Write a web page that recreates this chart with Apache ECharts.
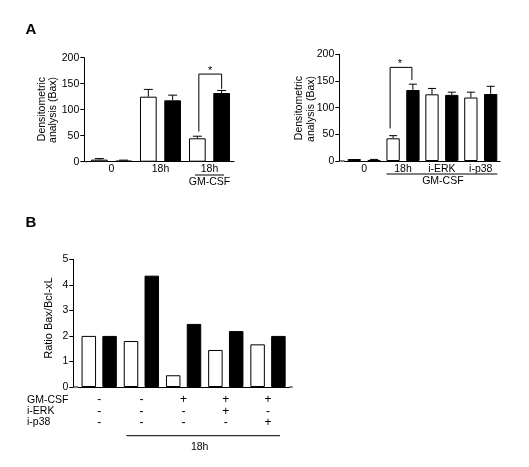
<!DOCTYPE html>
<html><head><meta charset="utf-8">
<script src="https://cdn.jsdelivr.net/npm/echarts@6/dist/echarts.min.js"></script>
<style>html,body{margin:0;padding:0;background:#fff}#c{width:529px;height:467px}</style>
</head><body><div id="c"></div>
<script>
// ---------- Data ----------
// Panel A (left): Bax densitometry
const catsA1 = ['0', '18h', '18h\nGM-CSF'];
const whiteA1 = [4, 125, 45];
const blackA1 = [2, 118, 132];
const whiteErrA1 = [2, 14, 4];
const blackErrA1 = [1, 10, 5];
// Panel A (right)
const catsA2 = ['0', '18h', 'i-ERK', 'i-p38'];
const whiteA2 = [3.75, 42.5, 125, 119];
const blackA2 = [2, 133, 124, 125.5];
const whiteErrA2 = [0, 5, 11, 10];
const blackErrA2 = [1, 11, 5, 14.5];
// Panel B: Bax/Bcl-xL ratio
const gmcsfRow = ['-', '-', '+', '+', '+'];
const iErkRow  = ['-', '-', '-', '+', '-'];
const ip38Row  = ['-', '-', '-', '-', '+'];
const catsB = ['1', '2', '3', '4', '5'];
const whiteB = [2.0, 1.8, 0.46, 1.45, 1.67];
const blackB = [2.0, 4.36, 2.47, 2.19, 2.0];
// Axis scales
const yScaleA = {min: 0, max: 200, interval: 50};
const yScaleB = {min: 0, max: 5, interval: 1};
const rowLabels = ['GM-CSF', 'i-ERK', 'i-p38'];

// ---------- Layout ----------
const FONT = '"Liberation Sans", Arial, Helvetica, sans-serif';
const grids = [
  {left: 87, top: 57.7, width: 147, height: 104},
  {left: 344.7, top: 54.3, width: 155.5, height: 106.7},
  {left: 78.1, top: 259.3, width: 211, height: 127.7}
];
const yOffsets = [2.7, 5.4, 4.8];
const barW = [16.7, 13.3, 14.5];
const barGapPx = [7.6, 6.5, 6.3];
const capW = [9, 8, 0];

function xAxis(i, cats, extra) {
  return Object.assign({
    type: 'category', gridIndex: i, data: cats,
    axisLine: {show: true, lineStyle: {color: '#000', width: 1}},
    axisTick: {show: false},
    splitLine: {show: false},
    axisLabel: {interval: 0, color: '#000', fontSize: 10.5, fontFamily: FONT, margin: 1.5, lineHeight: 12.5}
  }, extra || {});
}
function yAxis(i, sc) {
  return {
    type: 'value', gridIndex: i, min: sc.min, max: sc.max, interval: sc.interval,
    offset: yOffsets[i],
    axisLine: {show: true, lineStyle: {color: '#000', width: 1}},
    axisTick: {show: true, length: 4, lineStyle: {color: '#000'}},
    splitLine: {show: false},
    axisLabel: {color: '#000', fontSize: 10.5, fontFamily: FONT, margin: 5}
  };
}
function bars(i, vals, white) {
  return {
    type: 'bar', xAxisIndex: i, yAxisIndex: i, data: vals, silent: true,
    barWidth: barW[i], barGap: (barGapPx[i] / barW[i] * 100).toFixed(1) + '%',
    itemStyle: white ? {color: '#fff', borderColor: '#000', borderWidth: 1} : {color: '#000', borderColor: '#000', borderWidth: 1},
    z: 2
  };
}
function errs(i, vals, e, side) {
  const off = side * (barW[i] + barGapPx[i]) / 2;
  return {
    type: 'custom', xAxisIndex: i, yAxisIndex: i, silent: true, z: 5,
    data: vals.map((v, k) => [k, v, e[k]]),
    renderItem: function (params, api) {
      const k = api.value(0), v = api.value(1), ev = api.value(2);
      if (!ev) return null;
      const p0 = api.coord([k, v]), p1 = api.coord([k, v + ev]);
      const x = p0[0] + off;
      return {type: 'group', children: [
        {type: 'line', shape: {x1: x, y1: p0[1], x2: x, y2: p1[1]}, style: {stroke: '#000', lineWidth: 1}},
        {type: 'line', shape: {x1: x - capW[i] / 2, y1: p1[1], x2: x + capW[i] / 2, y2: p1[1]}, style: {stroke: '#000', lineWidth: 1}}
      ]};
    }
  };
}

const chart = echarts.init(document.getElementById('c'), null, {renderer: 'canvas'});
chart.setOption({
  backgroundColor: '#fff',
  animation: false,
  textStyle: {fontFamily: FONT},
  grid: grids,
  xAxis: [
    xAxis(0, catsA1),
    xAxis(1, catsA2),
    xAxis(2, catsB, {axisLabel: {interval: 0, color: '#000', fontSize: 12, fontFamily: FONT, margin: 7, lineHeight: 11.5,
      formatter: function (v, k) { return gmcsfRow[k] + '\n' + iErkRow[k] + '\n' + ip38Row[k]; }}})
  ],
  yAxis: [yAxis(0, yScaleA), yAxis(1, yScaleA), yAxis(2, yScaleB)],
  series: [
    bars(0, whiteA1, true), bars(0, blackA1, false),
    errs(0, whiteA1, whiteErrA1, -1), errs(0, blackA1, blackErrA1, 1),
    bars(1, whiteA2, true), bars(1, blackA2, false),
    errs(1, whiteA2, whiteErrA2, -1), errs(1, blackA2, blackErrA2, 1),
    bars(2, whiteB, true), bars(2, blackB, false)
  ]
});

// ---------- Annotations (positions derived from the axes) ----------
function px(i, x, y) { return chart.convertToPixel({gridIndex: i}, [x, y]); }
function half(i) { return (barW[i] + barGapPx[i]) / 2; }
const L = (x1, y1, x2, y2) => ({type: 'line', silent: true, shape: {x1, y1, x2, y2}, style: {stroke: '#000', lineWidth: 1}});
const T = (text, x, y, o) => ({type: 'text', silent: true, x, y, rotation: (o && o.rot) || 0,
  style: {text, fill: '#000', font: ((o && o.font) || '10.5px') + ' ' + FONT,
    textAlign: (o && o.align) || 'center', textVerticalAlign: (o && o.va) || 'middle'}});

const g = [];
// panel letters
g.push(T('A', 31, 30, {font: 'bold 15px'}));
g.push(T('B', 31, 222.5, {font: 'bold 15px'}));

// extend x-axis lines to the y-axis
for (let i = 0; i < 3; i++) {
  const gl = grids[i];
  const yb = gl.top + gl.height;
  g.push(L(gl.left - yOffsets[i], yb, gl.left, yb));
}
g.push(L(grids[2].left + grids[2].width, grids[2].top + grids[2].height, grids[2].left + grids[2].width + 3.6, grids[2].top + grids[2].height));

// y-axis titles
g.push(T('Densitometric', 42, 77, {rot: Math.PI / 2, align: 'right'}));
g.push(T('analysis (Bax)', 53, 77, {rot: Math.PI / 2, align: 'right'}));
g.push(T('Densitometric', 299.5, 76, {rot: Math.PI / 2, align: 'right'}));
g.push(T('analysis (Bax)', 311.5, 76, {rot: Math.PI / 2, align: 'right'}));
g.push(T('Ratio Bax/Bcl-xL', 49, px(2, 0, 2.5)[1] - 5, {rot: Math.PI / 2, font: '11px'}));

// significance bracket, panel A left (between white and black of GM-CSF)
(function () {
  const c = px(0, 2, 0)[0];
  const xl = c - half(0) + 1.5, xr = c + half(0);
  const yl = px(0, 2, 58)[1], yt = px(0, 2, 168.5)[1], yr = px(0, 2, 140)[1];
  g.push(L(xl, yl, xl, yt), L(xl, yt, xr, yt), L(xr, yt, xr, yr));
  g.push(T('*', (xl + xr) / 2, yt - 3, {font: '11px'}));
  // underline between "18h" and "GM-CSF"
  const ly = px(0, 2, 0)[1] + 13.3;
  g.push(L(c - 14.5, ly, c + 14.5, ly));
})();
// significance bracket, panel A right (18h white vs black)
(function () {
  const c = px(1, 1, 0)[0];
  const xl = c - half(1) - 3, xr = c + half(1) - 1;
  const yl = px(1, 1, 61)[1], yt = px(1, 1, 175.5)[1], yr = px(1, 1, 152)[1];
  g.push(L(xl, yl, xl, yt), L(xl, yt, xr, yt), L(xr, yt, xr, yr));
  g.push(T('*', (xl + xr) / 2 - 1, yt - 3, {font: '11px'}));
  const c1 = c, c3 = px(1, 3, 0)[0];
  const ly = px(1, 1, 0)[1] + 13;
  g.push(L(c1 - half(1) - barW[1] / 2, ly, c3 + half(1) + barW[1] / 2, ly));
  g.push(T('GM-CSF', (c1 + c3) / 2 + 1, ly + 7.5));
})();
// panel B row labels and 18h bracket
(function () {
  const yb = px(2, 0, 0)[1];
  rowLabels.forEach((t, k) => g.push(T(t, 27, yb + 13 + k * 11.3, {align: 'left'})));
  const c1 = px(2, 1, 0)[0], c4 = px(2, 4, 0)[0];
  const ly = yb + 48.7;
  g.push(L(c1 - 15, ly, c4 + 12, ly));
  g.push(T('18h', (c1 + c4) / 2 - 5, ly + 11));
})();

chart.setOption({graphic: {elements: g}});
</script>
</body></html>
